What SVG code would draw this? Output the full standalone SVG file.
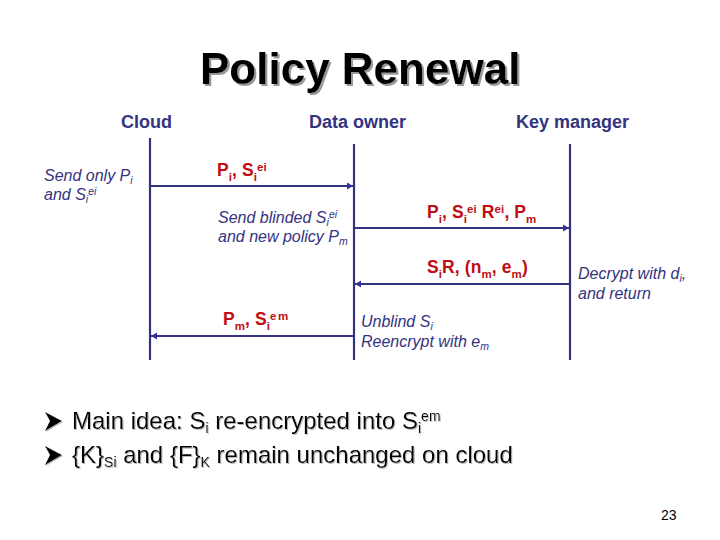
<svg xmlns="http://www.w3.org/2000/svg" width="720" height="540" viewBox="0 0 720 540">
<style>
text{font-family:"Liberation Sans",Arial,sans-serif}
.title{font-size:44px;font-weight:bold;fill:#000}
.head{font-size:18px;font-weight:bold;fill:#333380}
.note{font-size:16px;font-style:italic;fill:#333380}
.msg{font-size:17.5px;font-weight:bold;fill:#c00d14;letter-spacing:.1px}
.bul{font-size:24px;fill:#000}
.num{font-size:14px;fill:#000}
.line{stroke:#333380;stroke-width:2.2;fill:none}
.s{font-size:10.5px}
.m{font-size:11.5px}
</style>
<defs>
<filter id="sh" x="-5%" y="-20%" width="110%" height="140%"><feDropShadow dx="2" dy="2" stdDeviation="0.6" flood-color="#999"/></filter>
<filter id="sh2" x="-5%" y="-20%" width="110%" height="140%"><feDropShadow dx="1" dy="1" stdDeviation="0.5" flood-color="#bbb"/></filter>
<marker id="a" markerUnits="userSpaceOnUse" markerWidth="8" markerHeight="8" refX="6" refY="4" orient="auto-start-reverse"><path d="M0 0.5L6 4L0 7.5Z" fill="#333399"/></marker>
</defs>
<g id="connectors">
<path class="line" d="M150 138V360"/>
<path class="line" d="M354 144V360"/>
<path class="line" d="M570 144V360"/>
<path class="line" d="M151 186H353" marker-end="url(#a)"/>
<path class="line" d="M355 228H569" marker-end="url(#a)"/>
<path class="line" d="M569 284H355" marker-end="url(#a)"/>
<path class="line" d="M353 336H151" marker-end="url(#a)"/>
</g>
<text class="title" x="200" y="84" filter="url(#sh)">Policy Renewal</text>
<g id="cloud"><text class="head" x="121" y="128">Cloud</text></g>
<g id="data-owner"><text class="head" x="309" y="128">Data owner</text></g>
<g id="key-manager"><text class="head" x="516" y="128">Key manager</text></g>
<text class="note" x="44" y="181">Send only P<tspan class="s" dy="3">i</tspan></text>
<text class="note" x="44" y="200">and S<tspan class="s" dy="3">i</tspan><tspan class="s" dy="-8">ei</tspan></text>
<text class="msg" x="217" y="176">P<tspan class="m" dy="5">i</tspan><tspan dy="-5">, S</tspan><tspan class="m" dy="5">i</tspan><tspan class="m" dy="-10">ei</tspan></text>
<text class="note" x="218" y="223">Send blinded S<tspan class="s" dy="3">i</tspan><tspan class="s" dy="-8">ei</tspan></text>
<text class="note" x="218" y="242">and new policy P<tspan class="s" dy="3">m</tspan></text>
<text class="msg" x="427" y="218">P<tspan class="m" dy="5">i</tspan><tspan dy="-5">, S</tspan><tspan class="m" dy="5">i</tspan><tspan class="m" dy="-10">ei</tspan><tspan dy="5"> R</tspan><tspan class="m" dy="-5">ei</tspan><tspan dy="5">, P</tspan><tspan class="m" dy="5">m</tspan></text>
<text class="msg" x="427" y="273">S<tspan class="m" dy="5">i</tspan><tspan dy="-5">R, (n</tspan><tspan class="m" dy="5">m</tspan><tspan dy="-5">, e</tspan><tspan class="m" dy="5">m</tspan><tspan dy="-5">)</tspan></text>
<text class="note" x="578" y="279">Decrypt with d<tspan class="s" dy="3">i</tspan><tspan dy="-3">,</tspan></text>
<text class="note" x="578" y="299">and return</text>
<text class="msg" x="223" y="325">P<tspan class="m" dy="5">m</tspan><tspan dy="-5">, S</tspan><tspan class="m" dy="5">i</tspan><tspan class="m" dy="-10" letter-spacing="1.5">em</tspan></text>
<text class="note" x="361" y="327">Unblind S<tspan class="s" dy="3">i</tspan></text>
<text class="note" x="361" y="347">Reencrypt with e<tspan class="s" dy="3">m</tspan></text>
<g filter="url(#sh2)">
<path d="M45 412L62 421L45 431L50 421Z" fill="#000"/>
<path d="M45 446L62 455L45 465L50 455Z" fill="#000"/>
<text class="bul" x="72" y="429">Main idea: S<tspan font-size="14" dy="4">i</tspan><tspan dy="-4"> re-encrypted into S</tspan><tspan font-size="14" dy="4">i</tspan><tspan font-size="14" dy="-12">em</tspan></text>
<text class="bul" x="72" y="463">{K}<tspan font-size="14" dy="4">Si</tspan><tspan dy="-4"> and {F}</tspan><tspan font-size="14" dy="4">K</tspan><tspan dy="-4"> remain unchanged on cloud</tspan></text>
</g>
<text class="num" x="661" y="520">23</text>
</svg>
